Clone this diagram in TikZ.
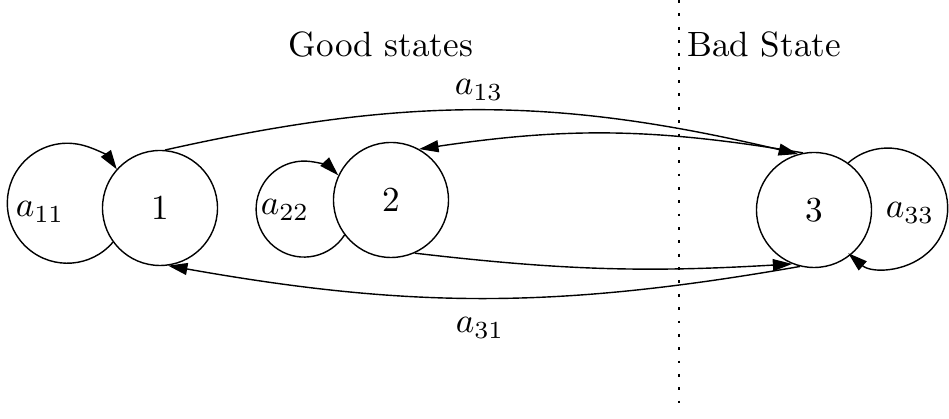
\documentclass[tikz,border=0pt]{standalone}
\usetikzlibrary{arrows.meta}

\begin{document}
\begin{tikzpicture}[>={Triangle[length=5.5pt,width=3.4pt]},state/.style={draw,circle,minimum size=1.15cm,inner sep=0pt}]
\useasboundingbox (0,0) rectangle (9.49,4.19);
\node[state](s1) at (1.60,2.11){1};
\node[state](s2) at (3.91,2.19){2};
\node[state](s3) at (8.14,2.09){3};
% self loops
\draw[->](s1.216) arc[start angle=-40.5,end angle=-325.6,radius=0.6];
\draw[->](s2.217) arc[start angle=-32.7,end angle=-315.3,radius=0.48];
\draw[->](s3.54) arc[start angle=131.2,end angle=-131.2,radius=0.6];
% transitions
\draw[->](s1.85) to[bend left=13] (s3.106);
\draw[->](s3.101) to[bend right=9] (s2.61);
\draw[->](s2.-66) to[bend right=5] (s3.-112);
\draw[->](s3.-104) to[bend left=10] (s1.-82);
\node(l13) at (4.79,3.29){$a_{13}$};
\node(l31) at (4.80,0.91){$a_{31}$};
\node(l11) at (0.40,2.07){$a_{11}$};
\node(l22) at (2.85,2.09){$a_{22}$};
\node(l33) at (9.10,2.06){$a_{33}$};
\node(good) at (3.81,3.74){Good states};
\node(bad) at (7.64,3.74){Bad State};
\coordinate(top) at (6.79,4.19);\coordinate(bot) at (6.79,0.08);
\draw[dash pattern=on 0.8pt off 3pt](top)--(bot);
\end{tikzpicture}
\end{document}
